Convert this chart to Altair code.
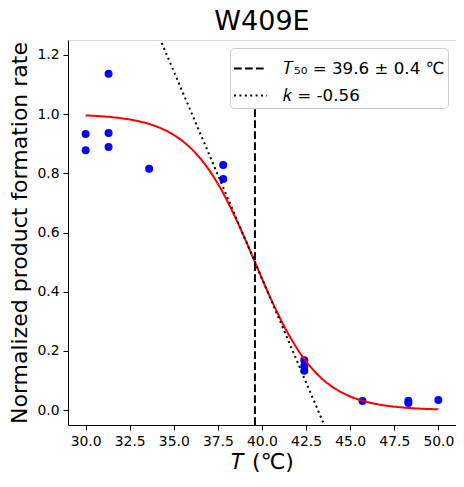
import altair as alt
import pandas as pd
import numpy as np

# measured data
temps = [30.0, 30.0, 31.3, 31.3, 31.3, 33.6, 37.8, 37.8, 42.4, 42.4, 42.4, 45.7, 48.3, 48.3, 50.0]
rates = [0.933, 0.878, 1.136, 0.936, 0.889, 0.815, 0.828, 0.781, 0.169, 0.149, 0.133, 0.031, 0.032, 0.024, 0.034]

# fit parameters
T50 = 39.6
T50_err = 0.4
k = -0.56

label_t50 = "𝑇₅₀ = 39.6 ± 0.4 ℃"
label_k = "𝑘 = -0.56"

pts = pd.DataFrame({"T": temps, "rate": rates})

fit_T = np.linspace(30.0, 50.0, 200)
fit_y = 1.0 / (1.0 + np.exp(-k * (fit_T - T50)))
fit = pd.DataFrame({"T": fit_T, "rate": fit_y})

# tangent at T50 (slope k/4) and vertical T50 line
tan_T = np.array([30.0, 50.0])
tan_y = 0.5 + k / 4.0 * (tan_T - T50)
lines = pd.DataFrame({
    "T": [T50, T50] + list(tan_T),
    "rate": [-0.05, 1.05] + list(tan_y),
    "series": [label_t50, label_t50, label_k, label_k],
    "ord": [0, 1, 0, 1],
})

xs = alt.Scale(domain=[29, 51], nice=False, zero=False)
ys = alt.Scale(domain=[-0.05, 1.25], nice=False, zero=False)

xax = alt.Axis(title="𝑇 (℃)", values=[30, 32.5, 35, 37.5, 40, 42.5, 45, 47.5, 50], format=".1f",
               grid=False, tickSize=5, labelPadding=4, labelFontSize=13.9, titleFontSize=22,
               titleFontWeight="normal", titlePadding=4, domainColor="black", tickColor="black",
               labelColor="black", titleColor="black")
yax = alt.Axis(title="Normalized product formation rate", values=[0, 0.2, 0.4, 0.6, 0.8, 1.0, 1.2],
               format=".1f", grid=False, tickSize=5, labelPadding=4, labelFontSize=13.9,
               titleFontSize=22, titleFontWeight="normal", titlePadding=5, domainColor="black",
               tickColor="black", labelColor="black", titleColor="black")

fit_layer = alt.Chart(fit).mark_line(color="red", strokeWidth=2).encode(
    x=alt.X("T:Q", scale=xs, axis=xax),
    y=alt.Y("rate:Q", scale=ys, axis=yax),
)

line_layer = alt.Chart(lines).mark_line(color="black", strokeWidth=2, clip=True).encode(
    x=alt.X("T:Q", scale=xs),
    y=alt.Y("rate:Q", scale=ys),
    order="ord:Q",
    strokeDash=alt.StrokeDash(
        "series:N",
        scale=alt.Scale(domain=[label_t50, label_k], range=[[7.7, 3.3], [2, 3.4]]),
        legend=alt.Legend(
            title=None, orient="top-right", offset=8, labelFontSize=16.7, labelColor="black",
            symbolType="stroke", symbolSize=1089, symbolStrokeWidth=2, symbolStrokeColor="black",
            labelOffset=15, rowPadding=-8, padding=3, fillColor="white", strokeColor="#cccccc",
            cornerRadius=4, labelLimit=400,
        ),
    ),
)

pt_layer = alt.Chart(pts).mark_circle(color="blue", size=64, opacity=1).encode(
    x=alt.X("T:Q", scale=xs),
    y=alt.Y("rate:Q", scale=ys),
)

chart = alt.layer(pt_layer, fit_layer, line_layer).properties(
    width=388, height=385,
    title=alt.Title("W409E", fontSize=27, fontWeight="normal", color="black", offset=4),
    autosize=alt.AutoSizeParams(type="none"),
    padding={"left": 60, "top": 32, "right": 0, "bottom": 50},
).configure_view(stroke="black", strokeWidth=1).configure(font="DejaVu Sans")

chart.save("out.html", embed_options={"renderer": "svg", "actions": False})
